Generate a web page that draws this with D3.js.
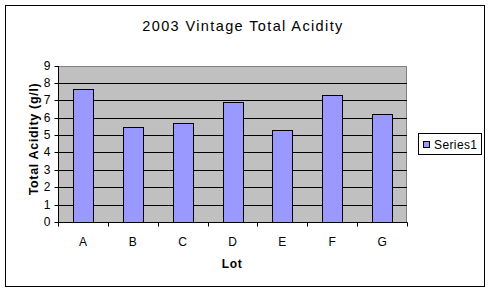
<!DOCTYPE html>
<html><head><meta charset="utf-8">
<script src="https://cdn.jsdelivr.net/npm/d3@7"></script>
<style>body{margin:0;background:#fff}svg{display:block}text{font-family:Arial,"Liberation Sans",sans-serif}</style>
</head><body>
<script>
const categories = ["A","B","C","D","E","F","G"];
const values = [7.65, 5.45, 5.7, 6.9, 5.3, 7.3, 6.2];
const yTicks = [0,1,2,3,4,5,6,7,8,9];
const seriesName = "Series1";
const title = "2003 Vintage Total Acidity";
const xTitle = "Lot";
const yTitle = "Total Acidity (g/l)";

const W = 492, H = 292;
const svg = d3.select("body").append("svg").attr("width", W).attr("height", H);
svg.append("rect").attr("x",5.5).attr("y",5.5).attr("width",479).attr("height",281)
  .attr("fill","#fff").attr("stroke","#000").attr("stroke-width",1);

const L = 58, R = 407, T = 65.5, B = 222;
const x = d3.scaleBand().domain(categories).range([L, R]).paddingInner(0.6).paddingOuter(0.3);
const xb = d3.scaleBand().domain(categories).range([L, R]);
const y = d3.scaleLinear().domain([0, 9]).range([B, T]);

// widen text to a target length with letter spacing
function spread(sel, target){
  const w = sel.node().getComputedTextLength();
  const n = sel.text().length;
  if (w > 0 && n > 1) sel.attr("letter-spacing", ((target - w) / (n - 1)).toFixed(2));
}

const plotTop = Math.round(T);
svg.append("rect").attr("x",L).attr("y",plotTop).attr("width",R-L).attr("height",B-plotTop).attr("fill","#C0C0C0");
svg.append("path").attr("d",`M${L},${plotTop+0.5}H${R-0.5}V${B}`).attr("fill","none").attr("stroke","#808080");

svg.append("g").selectAll("line").data(yTicks.slice(1, -1)).join("line")
  .attr("x1",L).attr("x2",R).attr("y1",d=>Math.round(y(d))+0.5).attr("y2",d=>Math.round(y(d))+0.5)
  .attr("stroke","#000").attr("stroke-width",1);

svg.append("g").selectAll("rect").data(values).join("rect")
  .attr("x",(d,i)=>Math.round(x(categories[i]))+0.5)
  .attr("y",d=>Math.round(y(d))+0.5)
  .attr("width",Math.round(x.bandwidth()))
  .attr("height",d=>Math.round(y(0))-Math.round(y(d)))
  .attr("fill","#9999FF").attr("stroke","#000").attr("stroke-width",1);

// y axis
const ya = svg.append("g").attr("transform",`translate(${L+0.5},0)`)
  .call(d3.axisLeft(y).tickValues(yTicks).tickSize(4).tickPadding(4).tickSizeOuter(0));
ya.select(".domain").attr("d",`M0,${plotTop}V${B}`).attr("stroke","#000");
ya.selectAll(".tick").attr("transform",d=>`translate(0,${Math.round(y(d))+0.5})`);
ya.selectAll("line").attr("stroke","#000");
ya.selectAll("text").attr("font-size",12).attr("fill","#000").attr("font-family","Arial,'Liberation Sans',sans-serif");

// x axis
const xa = svg.append("g").attr("transform",`translate(0,${B+0.5})`);
xa.append("line").attr("x1",L).attr("x2",R+0.5).attr("stroke","#000");
xa.selectAll(".tk").data(categories.concat(["_end"])).join("line").attr("class","tk")
  .attr("x1",(d,i)=>Math.round(L+i*xb.step())+0.5).attr("x2",(d,i)=>Math.round(L+i*xb.step())+0.5)
  .attr("y1",0).attr("y2",4).attr("stroke","#000");
xa.selectAll(".lb").data(categories).join("text").attr("class","lb")
  .attr("x",d=>xb(d)+xb.bandwidth()/2).attr("y",23).attr("text-anchor","middle")
  .attr("font-size",12).text(d=>d);

const tt = svg.append("text").attr("x",243).attr("y",30.5).attr("text-anchor","middle").attr("font-size",14.5).text(title);
spread(tt, 200);
svg.append("text").attr("x",232).attr("y",268).attr("text-anchor","middle").attr("font-size",12).attr("font-weight","bold").attr("letter-spacing",0.6).text(xTitle);
const yt = svg.append("text").attr("transform",`translate(37.5,139) rotate(-90)`).attr("text-anchor","middle")
  .attr("font-size",12.5).attr("font-weight","bold").text(yTitle);
spread(yt, 112);

// legend
const lg = svg.append("g");
lg.append("rect").attr("x",418.5).attr("y",133.5).attr("width",63).attr("height",21).attr("fill","#fff").attr("stroke","#000");
lg.append("rect").attr("x",423.5).attr("y",141.5).attr("width",6).attr("height",6).attr("fill","#9999FF").attr("stroke","#000");
const lt = lg.append("text").attr("x",434).attr("y",148.5).attr("font-size",12).text(seriesName);
spread(lt, 43);
</script>
</body></html>
